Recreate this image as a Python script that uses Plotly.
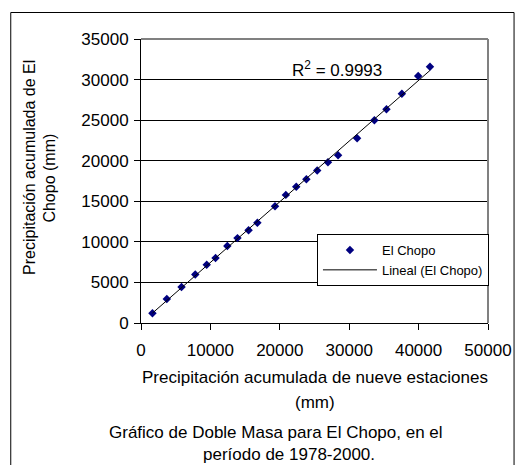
import numpy as np
import plotly.graph_objects as go

# Data (mm)
x_nueve = [1650, 3720, 5840, 7820, 9470, 10740, 12440, 13900, 15500, 16770,
           19310, 20870, 22370, 23830, 25390, 26940, 28400, 31140, 33630,
           35370, 37590, 39940, 41640]
y_chopo = [1190, 2950, 4430, 5990, 7180, 8000, 9480, 10460, 11440, 12350,
           14400, 15790, 16780, 17720, 18790, 19810, 20670, 22770, 24980,
           26330, 28260, 30440, 31580]
x_ticks = [0, 10000, 20000, 30000, 40000, 50000]
y_ticks = [0, 5000, 10000, 15000, 20000, 25000, 30000, 35000]
series_name = "El Chopo"
trend_name = "Lineal (El Chopo)"
r2_text = "R<sup>2</sup> = 0.9993"
x_title_1 = "Precipitación acumulada de nueve estaciones"
x_title_2 = "(mm)"
y_title_1 = "Precipitación acumulada de El"
y_title_2 = "Chopo (mm)"
caption_1 = "Gráfico de Doble Masa para El Chopo, en el"
caption_2 = "período de 1978-2000."

# page has an 8px body margin -> figure is 8px smaller and shifted
W, H = 516, 457
PL, PR, PT, PB = 141, 494, 39, 323          # plot area in page pixels
OFF = 8
L, T = PL - OFF, PT - OFF
R = W - (PR - OFF)
B = H - (PB - OFF)
PW, PH = PR - PL, PB - PT


def px(x):
    return (x - PL) / PW


def py(y):
    return (PB - y) / PH


slope, intercept = np.polyfit(x_nueve, y_chopo, 1)
tx = [min(x_nueve), max(x_nueve)]
ty = [slope * v + intercept for v in tx]

FONT = "Liberation Sans, Arial, sans-serif"

fig = go.Figure()
fig.add_trace(go.Scatter(
    x=x_nueve, y=y_chopo, mode="markers", name=series_name,
    marker=dict(symbol="diamond", size=6.5, color="#000080", line=dict(width=0)),
))
fig.add_trace(go.Scatter(
    x=tx, y=ty, mode="lines", name=trend_name,
    line=dict(color="black", width=1),
))

fig.update_layout(
    width=W, height=H,
    margin=dict(l=L, r=R, t=T, b=B, pad=0),
    paper_bgcolor="white", plot_bgcolor="white",
    font=dict(family=FONT, size=17, color="black"),
    showlegend=True,
    legend=dict(
        x=px(320), y=py(234), xanchor="left", yanchor="top",
        bgcolor="white", bordercolor="black", borderwidth=1,
        font=dict(size=13, family=FONT), itemwidth=54,
        tracegroupgap=0,
    ),
    xaxis=dict(
        range=[0, 50000], tickvals=x_ticks, ticktext=[str(v) for v in x_ticks],
        showgrid=False, zeroline=False,
        showline=True, linecolor="black", linewidth=1,
        ticks="outside", ticklen=6, tickcolor="black", tickwidth=1,
        ticklabelstandoff=6,
        tickfont=dict(size=17, family=FONT),
        fixedrange=True,
    ),
    yaxis=dict(
        range=[0, 35000], tickvals=y_ticks, ticktext=[str(v) for v in y_ticks],
        showgrid=True, gridcolor="black", gridwidth=1, zeroline=False,
        showline=True, linecolor="black", linewidth=1,
        ticks="outside", ticklen=6, tickcolor="black", tickwidth=1,
        ticklabelstandoff=2,
        tickfont=dict(size=17, family=FONT),
        fixedrange=True,
    ),
    shapes=[
        dict(type="line", xref="paper", yref="paper", x0=0, x1=1, y0=1, y1=1,
             line=dict(color="#808080", width=2), layer="above"),
        dict(type="line", xref="paper", yref="paper", x0=1, x1=1, y0=0, y1=1,
             line=dict(color="#808080", width=2), layer="above"),
        dict(type="rect", xref="paper", yref="paper",
             x0=px(8.5), x1=px(520.5), y0=py(480), y1=py(12.5),
             line=dict(color="black", width=1), layer="above"),
    ],
)

ann = []
ann.append(dict(text=r2_text, x=28300, y=31300, xref="x", yref="y",
                showarrow=False, font=dict(size=17)))
ann.append(dict(text=x_title_1, x=px(317.5), y=py(377), xref="paper", yref="paper",
                showarrow=False, xanchor="center", yanchor="middle"))
ann.append(dict(text=x_title_2, x=px(317.5), y=py(402), xref="paper", yref="paper",
                showarrow=False, xanchor="center", yanchor="middle"))
ann.append(dict(text=caption_1, x=px(278.5), y=py(432), xref="paper", yref="paper",
                showarrow=False, xanchor="center", yanchor="middle"))
ann.append(dict(text=caption_2, x=px(292), y=py(454), xref="paper", yref="paper",
                showarrow=False, xanchor="center", yanchor="middle"))
ann.append(dict(text=y_title_1, x=px(27), y=py(167), xref="paper", yref="paper",
                showarrow=False, xanchor="center", yanchor="middle", textangle=-90,
                font=dict(size=16)))
ann.append(dict(text=y_title_2, x=px(47), y=py(178), xref="paper", yref="paper",
                showarrow=False, xanchor="center", yanchor="middle", textangle=-90,
                font=dict(size=16)))
fig.update_layout(annotations=ann)

fig.write_html("out.html")
